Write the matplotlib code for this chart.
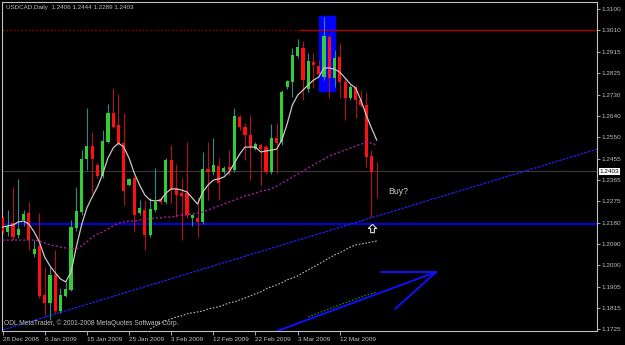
import numpy as np
import matplotlib.pyplot as plt
from matplotlib.patches import Rectangle
from matplotlib.path import Path

plt.rcParams['font.family'] = ['Liberation Sans', 'DejaVu Sans']

# daily bars, bar 0 = 28 Dec 2008
opens = [1.2202, 1.2142, 1.2180, 1.2129, 1.2193, 1.2223, 1.2047, 1.2082, 1.1871, 1.1837,
         1.1957, 1.1802, 1.1867, 1.1893, 1.2159, 1.2228, 1.2455, 1.2511, 1.2430, 1.2382,
         1.2529, 1.2653, 1.2602, 1.2524, 1.2344, 1.2374, 1.2223, 1.2236, 1.2129, 1.2236,
         1.2284, 1.2271, 1.2451, 1.2331, 1.2309, 1.2309, 1.2202, 1.2202, 1.2185, 1.2412,
         1.2400, 1.2425, 1.2400, 1.2421, 1.2408, 1.2636, 1.2593, 1.2559, 1.2498, 1.2516,
         1.2507, 1.2400, 1.2546, 1.2529, 1.2765, 1.2786, 1.2898, 1.2932, 1.2756, 1.2872,
         1.2855, 1.2808, 1.2980, 1.2804, 1.2894, 1.2786, 1.2718, 1.2765, 1.2709, 1.2688,
         1.2468, 1.2406]
highs = [1.2211, 1.2236, 1.2335, 1.2370, 1.2236, 1.2271, 1.2107, 1.2223, 1.1991, 1.1991,
         1.2065, 1.1901, 1.1927, 1.2193, 1.2335, 1.2494, 1.2675, 1.2572, 1.2438, 1.2580,
         1.2692, 1.2761, 1.2735, 1.2653, 1.2374, 1.2382, 1.2279, 1.2279, 1.2288, 1.2417,
         1.2292, 1.2460, 1.2516, 1.2434, 1.2374, 1.2529, 1.2219, 1.2292, 1.2486, 1.2529,
         1.2546, 1.2460, 1.2425, 1.2494, 1.2675, 1.2645, 1.2610, 1.2645, 1.2529, 1.2524,
         1.2516, 1.2606, 1.2610, 1.2752, 1.2795, 1.2932, 1.2971, 1.2963, 1.2911, 1.2911,
         1.2881, 1.3066, 1.2988, 1.2924, 1.2954, 1.2804, 1.2774, 1.2774, 1.2752, 1.2743,
         1.2494, 1.2444]
lows = [1.2133, 1.2125, 1.2107, 1.2116, 1.2168, 1.2065, 1.2034, 1.1858, 1.1785, 1.1764,
        1.1794, 1.1794, 1.1862, 1.1888, 1.2146, 1.2215, 1.2408, 1.2309, 1.2374, 1.2374,
        1.2524, 1.2589, 1.2516, 1.2258, 1.2339, 1.2142, 1.2215, 1.2065, 1.2120, 1.2228,
        1.2262, 1.2262, 1.2266, 1.2206, 1.2107, 1.2202, 1.2168, 1.2120, 1.2176, 1.2279,
        1.2387, 1.2279, 1.2391, 1.2387, 1.2400, 1.2580, 1.2451, 1.2365, 1.2494, 1.2344,
        1.2391, 1.2391, 1.2395, 1.2516, 1.2756, 1.2722, 1.2889, 1.2709, 1.2743, 1.2761,
        1.2812, 1.2795, 1.2718, 1.2765, 1.2718, 1.2623, 1.2709, 1.2632, 1.2679, 1.2421,
        1.2206, 1.2289]
closes = [1.2146, 1.2168, 1.2120, 1.2155, 1.2219, 1.2107, 1.2069, 1.1867, 1.1837, 1.1957,
          1.1802, 1.1871, 1.1897, 1.2163, 1.2232, 1.2455, 1.2511, 1.2455, 1.2382, 1.2533,
          1.2653, 1.2593, 1.2524, 1.2318, 1.2370, 1.2215, 1.2245, 1.2129, 1.2241, 1.2271,
          1.2271, 1.2451, 1.2322, 1.2301, 1.2297, 1.2215, 1.2215, 1.2185, 1.2412, 1.2400,
          1.2430, 1.2352, 1.2417, 1.2408, 1.2640, 1.2593, 1.2559, 1.2507, 1.2520, 1.2498,
          1.2400, 1.2546, 1.2524, 1.2743, 1.2791, 1.2902, 1.2937, 1.2795, 1.2877, 1.2859,
          1.2821, 1.2984, 1.2804, 1.2889, 1.2786, 1.2718, 1.2765, 1.2709, 1.2688, 1.2464,
          1.2400, 1.2403]

# moving averages
ma_fast = [1.2163, 1.2168, 1.2172, 1.2185, 1.2189, 1.2176, 1.2142, 1.2099, 1.2034, 1.1996,
           1.1966, 1.1940, 1.1927, 1.1970, 1.2077, 1.2172, 1.2245, 1.2292, 1.2335, 1.2391,
           1.2460, 1.2503, 1.2524, 1.2507, 1.2460, 1.2395, 1.2344, 1.2301, 1.2279, 1.2275,
           1.2279, 1.2309, 1.2327, 1.2327, 1.2322, 1.2314, 1.2288, 1.2262, 1.2314, 1.2344,
           1.2365, 1.2370, 1.2378, 1.2400, 1.2438, 1.2477, 1.2507, 1.2507, 1.2507, 1.2486,
           1.2490, 1.2494, 1.2498, 1.2537, 1.2606, 1.2688, 1.2730, 1.2752, 1.2774, 1.2795,
           1.2808, 1.2847, 1.2847, 1.2842, 1.2829, 1.2804, 1.2778, 1.2761, 1.2709, 1.2645,
           1.2589, 1.2537]
ma_mid = [1.2107, 1.2107, 1.2107, 1.2107, 1.2107, 1.2107, 1.2107, 1.2103, 1.2094, 1.2086,
          1.2082, 1.2077, 1.2073, 1.2069, 1.2069, 1.2082, 1.2099, 1.2120, 1.2133, 1.2142,
          1.2155, 1.2168, 1.2180, 1.2185, 1.2189, 1.2189, 1.2193, 1.2198, 1.2198, 1.2202,
          1.2202, 1.2206, 1.2206, 1.2211, 1.2215, 1.2215, 1.2219, 1.2223, 1.2228, 1.2236,
          1.2245, 1.2254, 1.2262, 1.2271, 1.2279, 1.2288, 1.2297, 1.2301, 1.2309, 1.2318,
          1.2322, 1.2327, 1.2339, 1.2352, 1.2365, 1.2378, 1.2391, 1.2404, 1.2417, 1.2430,
          1.2443, 1.2455, 1.2468, 1.2477, 1.2486, 1.2494, 1.2503, 1.2511, 1.2520, 1.2524,
          1.2524, 1.2516]
ma_slow_start = 28
ma_slow = [1.1725, 1.1738, 1.1751, 1.1759, 1.1768, 1.1777, 1.1781, 1.1790, 1.1794, 1.1798,
           1.1802, 1.1811, 1.1815, 1.1820, 1.1828, 1.1837, 1.1841, 1.1850, 1.1858, 1.1867,
           1.1876, 1.1884, 1.1897, 1.1906, 1.1914, 1.1923, 1.1936, 1.1944, 1.1953, 1.1966,
           1.1979, 1.1991, 1.2004, 1.2017, 1.2030, 1.2043, 1.2052, 1.2065, 1.2077, 1.2086,
           1.2090, 1.2094, 1.2099, 1.2103]
ma_long_start = 58
ma_long = [1.1777, 1.1785, 1.1794, 1.1802, 1.1811, 1.1820, 1.1828, 1.1837, 1.1845, 1.1854,
           1.1862, 1.1871, 1.1876, 1.1884]

date_idx = [0, 8, 16, 24, 32, 40, 48, 56, 64]
date_labels = ['28 Dec 2008', '6 Jan 2009', '15 Jan 2009', '25 Jan 2009', '3 Feb 2009',
               '12 Feb 2009', '22 Feb 2009', '3 Mar 2009', '12 Mar 2009']
price_ticks = [1.3100, 1.3010, 1.2915, 1.2825, 1.2730, 1.2640, 1.2550, 1.2455, 1.2365,
               1.2275, 1.2180, 1.2090, 1.2000, 1.1905, 1.1815, 1.1725]

# hand drawn objects on the chart
resistance = 1.3010
support = 1.2178
trend_pts = ([0.1, 112.8], [1.1721, 1.2498])
box_x, box_w, box_lo, box_hi = 60.1, 3.0, 1.2748, 1.3070
arrow_shaft = ([52.1, 82.3], [1.1716, 1.1970])
arrow_top = ([71.8, 82.3], [1.1970, 1.1970])
arrow_side = ([74.5, 82.3], [1.1811, 1.1970])
buy_mark = (70.1, 1.2159)

fg = '#c0c0c0'
fig = plt.figure(figsize=(6.25, 3.45), dpi=100, facecolor='black')
ax = fig.add_axes([2 / 625, 14 / 345, 595 / 625, 329.5 / 345], facecolor='black')

n = len(closes)
x = np.arange(n)

ax.add_patch(Rectangle((box_x, box_lo), box_w, box_hi - box_lo, color='#0000ff', zorder=1))

# price lines
ax.axhline(closes[-1], color='#3a3a3a', lw=0.8, zorder=1)
ax.axhline(support, color='#0000ff', lw=1.3, zorder=2)
ax.plot([-1, 56.5], [resistance, resistance], color='#a00000', lw=1, ls=':', zorder=2)
ax.plot([56.5, 120], [resistance, resistance], color='#b00000', lw=1, zorder=2)
ax.plot(*trend_pts, color='#2020ff', lw=0.9, ls=(0, (2, 1)), zorder=2)

# candles
for i in x:
    o, h, l, c = opens[i], highs[i], lows[i], closes[i]
    up = c >= o
    ax.vlines(i, l, h, color='#2b8a8a' if up else '#b01020', lw=0.8, zorder=3)
    body = max(abs(c - o), 0.0003)
    ax.bar(i, body, bottom=min(o, c), width=0.6, color='#32cd32' if up else '#ff1010',
           edgecolor='none', zorder=4)

# moving averages
ax.plot(x, ma_fast, color='#c8c8c8', lw=0.9, zorder=5)
ax.plot(x, ma_mid, color='#a020a0', lw=1, ls=(0, (1.5, 1.5)), zorder=5)
ax.plot(np.arange(ma_slow_start, ma_slow_start + len(ma_slow)), ma_slow,
        color='#b8b8b8', lw=0.8, ls=(0, (1.5, 1.5)), zorder=5)
ax.plot(np.arange(ma_long_start, ma_long_start + len(ma_long)), ma_long,
        color='#1f8a3a', lw=0.8, ls=(0, (1.5, 1.5)), zorder=5)

# the blue arrow
for seg in (arrow_shaft, arrow_top, arrow_side):
    ax.plot(*seg, color='#1010ff', lw=1.4, zorder=6, solid_capstyle='round')

ax.text(73.2, 1.2314, 'Buy?', color='#c8c8c8', fontsize=6.3, va='center', ha='left')

# hollow up arrow under the low bar
up_arrow = Path([(0, 1), (-1, 0), (-0.45, 0), (-0.45, -1), (0.45, -1), (0.45, 0), (1, 0), (0, 1)])
ax.plot(*buy_mark, marker=up_arrow, ms=6, mfc='none', mec='#e0e0e0', mew=0.8, zorder=7)

ax.set_xlim(-0.1, 112.8)
ax.set_ylim(1.1716, 1.3133)

ax.yaxis.tick_right()
ax.set_yticks(price_ticks)
ax.set_yticklabels(['%.4f' % p for p in price_ticks])
ax.tick_params(axis='y', colors=fg, labelsize=4.6, length=2, width=0.6, pad=1.5)
ax.set_xticks(date_idx)
ax.set_xticklabels(date_labels, ha='left')
ax.tick_params(axis='x', colors=fg, labelsize=4.6, length=3, width=0.6, pad=1.5)
for s in ax.spines.values():
    s.set_color(fg)
    s.set_linewidth(0.8)

ax.text(1.004, closes[-1], '%.4f' % closes[-1], transform=ax.get_yaxis_transform(),
        color='black', fontsize=4.6, va='center', ha='left',
        bbox=dict(facecolor='white', edgecolor='none', pad=0.6))

ax.text(0.007, 0.99, 'USDCAD,Daily  %.4f %.4f %.4f %.4f' % (opens[-1], highs[-1], lows[-1], closes[-1]),
        transform=ax.transAxes, color=fg, fontsize=4.5, va='top', ha='left')
ax.text(0.004, 0.012, 'ODL MetaTrader, \u00a9 2001-2008 MetaQuotes Software Corp.',
        transform=ax.transAxes, color=fg, fontsize=4.8, va='bottom', ha='left')

fig.savefig('out.png', dpi=100, facecolor='black')
